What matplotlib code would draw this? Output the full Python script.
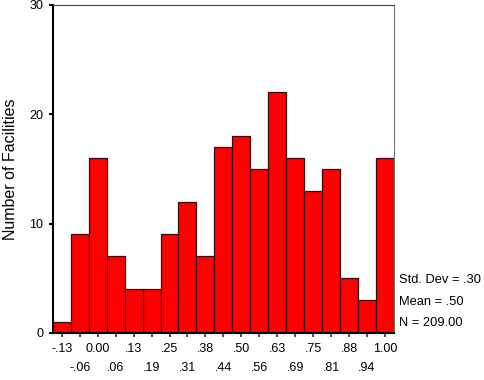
import numpy as np
import matplotlib.pyplot as plt

plt.rcParams['font.family'] = ['Liberation Sans', 'DejaVu Sans']

# bin centres and counts
centers = [-0.125, -0.0625, 0.0, 0.0625, 0.125, 0.1875, 0.25, 0.3125, 0.375, 0.4375,
           0.5, 0.5625, 0.625, 0.6875, 0.75, 0.8125, 0.875, 0.9375, 1.0]
counts = [1, 9, 16, 7, 4, 4, 9, 12, 7, 17, 18, 15, 22, 16, 13, 15, 5, 3, 16]
tick_labels = ['-.13', '-.06', '0.00', '.06', '.13', '.19', '.25', '.31', '.38', '.44',
               '.50', '.56', '.63', '.69', '.75', '.81', '.88', '.94', '1.00']
stats = ['Std. Dev = .30', 'Mean = .50', 'N = 209.00']

fig = plt.figure(figsize=(4.85, 3.8), dpi=100)
ax = fig.add_axes([0.109, 0.124, 0.703, 0.863])

width = 0.0625
ax.bar(centers, counts, width=width, color='#ff0000', edgecolor='#3a0a0a', linewidth=0.9)

ax.set_xlim(centers[0] - width / 2, centers[-1] + width / 2)
ax.set_ylim(0, 30)
ax.set_yticks([0, 10, 20, 30])
ax.tick_params(axis='y', length=3, width=1.5, labelsize=9, pad=4)

# two rows of x labels: even on major ticks, odd on minor ticks pushed lower
ax.set_xticks(centers[::2])
ax.set_xticklabels(tick_labels[::2])
ax.set_xticks(centers[1::2], minor=True)
ax.set_xticklabels(tick_labels[1::2], minor=True)
ax.tick_params(axis='x', which='major', length=3, width=1.5, color='#555555', labelsize=9, pad=4)
ax.tick_params(axis='x', which='minor', length=3, width=1.5, color='#555555', labelsize=9, pad=18)

ax.spines['left'].set_linewidth(1.5)
ax.spines['left'].set_color('black')
ax.spines['bottom'].set_linewidth(1.5)
ax.spines['bottom'].set_color('black')
ax.spines['top'].set_color('#444444')
ax.spines['right'].set_color('#777777')

ax.set_ylabel('Number of Facilities', fontsize=11.5, labelpad=8)

for i, s in enumerate(stats):
    fig.text(0.822, 0.262 - i * 0.056, s, fontsize=9.3, va='center', ha='left')

plt.savefig('out.png', dpi=100)
